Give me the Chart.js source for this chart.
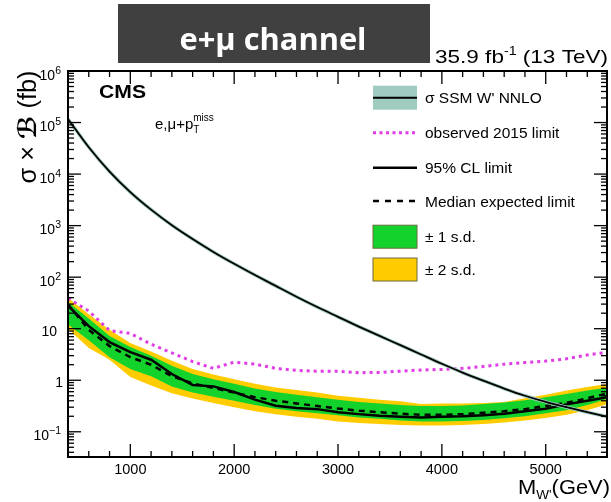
<!DOCTYPE html>
<html>
<head>
<meta charset="utf-8">
<script src="https://cdn.jsdelivr.net/npm/chart.js@4.4.1/dist/chart.umd.min.js"></script>
<style>
html, body { margin: 0; padding: 0; background: #fff; }
canvas { display: block; }
</style>
</head>
<body>
<canvas id="grafico" width="611" height="502"></canvas>
<script>
// Masas W' (GeV)
var masas = [400, 600, 800, 1000, 1200, 1400, 1600, 1800, 2000, 2200, 2400, 2600, 2800, 3000,
    3200, 3400, 3600, 3800, 4000, 4200, 4400, 4600, 4800, 5000, 5200, 5400, 5600];
// sigma x B en fb
var teoria = [117000, 33100, 11200, 4470, 2040, 1020, 550, 309, 182, 110, 67.6, 41.7, 26.3, 17,
    11, 7.24, 4.79, 3.16, 2.09, 1.41, 0.98, 0.69, 0.5, 0.38, 0.30, 0.24, 0.195];
var observado2015 = [39, 22, 9.2, 8.1, 5.0, 3.4, 2.3, 1.7, 2.25, 2.05, 1.7, 1.55, 1.5, 1.5,
    1.4, 1.42, 1.5, 1.58, 1.62, 1.7, 1.85, 2.05, 2.2, 2.35, 2.6, 3.1, 3.5];
var observado = [28, 11.2, 5.5, 3.5, 2.5, 1.32, 0.81, 0.76, 0.59, 0.42, 0.32, 0.29, 0.275, 0.24,
    0.22, 0.204, 0.195, 0.19, 0.195, 0.2, 0.21, 0.224, 0.25, 0.28, 0.34, 0.40, 0.47];
var mediana = [29.5, 9.5, 4.6, 2.8, 2.0, 1.2, 0.87, 0.71, 0.575, 0.47, 0.40, 0.355, 0.316, 0.282,
    0.257, 0.24, 0.224, 0.214, 0.214, 0.219, 0.234, 0.251, 0.275, 0.316, 0.363, 0.447, 0.562];
var verdeArriba = [33, 15.8, 7.2, 4.4, 3.0, 1.9, 1.32, 1.05, 0.85, 0.69, 0.59, 0.525, 0.47, 0.42,
    0.38, 0.355, 0.33, 0.316, 0.316, 0.324, 0.347, 0.37, 0.41, 0.47, 0.54, 0.63, 0.72];
var verdeAbajo = [12, 6.0, 2.8, 1.66, 1.2, 0.76, 0.575, 0.48, 0.40, 0.33, 0.28, 0.25, 0.23, 0.21,
    0.19, 0.178, 0.166, 0.158, 0.158, 0.162, 0.17, 0.182, 0.2, 0.23, 0.263, 0.33, 0.44];
var amarilloArriba = [40, 19, 9.5, 5.25, 3.6, 2.4, 1.66, 1.29, 1.05, 0.85, 0.72, 0.645, 0.575, 0.50,
    0.457, 0.417, 0.39, 0.347, 0.355, 0.355, 0.363, 0.38, 0.447, 0.525, 0.63, 0.74, 0.85];
var amarilloAbajo = [10, 4.2, 2.5, 1.15, 0.79, 0.56, 0.44, 0.36, 0.30, 0.25, 0.22, 0.195, 0.178, 0.158,
    0.148, 0.141, 0.135, 0.132, 0.132, 0.135, 0.141, 0.151, 0.166, 0.186, 0.214, 0.263, 0.347];

// Etiquetas de los ejes
var ticksX = [1000, 2000, 3000, 4000, 5000];
var etiquetasX = ["1000", "2000", "3000", "4000", "5000"];
var ticksY = [0.1, 1, 10, 100, 1000, 10000, 100000, 1000000];
var baseY = ["10", "1", "10", "10", "10", "10", "10", "10"];
var expY = ["\u22121", "", "", "2", "3", "4", "5", "6"];
var leyenda = ["\u03c3 SSM W' NNLO", "observed 2015 limit", "95% CL limit", "Median expected limit", "\u00b1 1 s.d.", "\u00b1 2 s.d."];

var VERDE = "#14d22c", AMARILLO = "#ffcc00", MAGENTA = "#e03de6", TEAL = "#9fcbc0";
var HELV = "'Liberation Sans', Arial, sans-serif";

function puntos(ys) {
    return masas.map(function (m, i) { return { x: m, y: ys[i] }; });
}

// Dibuja varios tramos de texto seguidos (para superindices y subindices)
function tramos(ctx, piezas, x, y, alin, ancho) {
    ctx.save();
    var total = 0;
    piezas.forEach(function (p) {
        ctx.font = p.f;
        p.w = ctx.measureText(p.t).width;
        if (!p.quieto) total += p.w;
    });
    var esc = ancho ? ancho / total : 1;
    var x0 = x;
    if (alin == "right") x0 = x - total * esc;
    if (alin == "center") x0 = x - total * esc / 2;
    ctx.translate(x0, y);
    ctx.scale(esc, 1);
    ctx.textBaseline = "alphabetic";
    ctx.textAlign = "left";
    var cx = 0;
    piezas.forEach(function (p) {
        ctx.font = p.f;
        ctx.fillText(p.t, cx, p.dy || 0);
        if (!p.quieto) cx += p.w;
    });
    ctx.restore();
}

function linea(ctx, x1, y1, x2, y2) {
    ctx.beginPath();
    ctx.moveTo(x1, y1);
    ctx.lineTo(x2, y2);
    ctx.stroke();
}

var decoracion = {
    id: "decoracion",
    afterDraw: function (chart) {
        var ctx = chart.ctx, a = chart.chartArea;
        var ex = chart.scales.x, ey = chart.scales.y;
        ctx.save();
        ctx.fillStyle = "#000";
        ctx.strokeStyle = "#000";

        // marco
        ctx.lineWidth = 2;
        ctx.strokeRect(a.left, a.top, a.right - a.left, a.bottom - a.top);

        // ticks del eje x (abajo y arriba)
        ctx.lineWidth = 1.3;
        for (var m = 400; m <= ex.max; m += 200) {
            var px = ex.getPixelForValue(m);
            var largo = (m % 1000 == 0) ? 13 : 6;
            linea(ctx, px, a.bottom, px, a.bottom - largo);
            linea(ctx, px, a.top, px, a.top + largo);
        }
        // ticks del eje y (izquierda y derecha)
        for (var d = -2; d <= 6; d++) {
            for (var k = 1; k <= 9; k++) {
                var v = k * Math.pow(10, d);
                if (v < ey.min || v > ey.max) continue;
                var py = ey.getPixelForValue(v);
                var l = (k == 1) ? 13 : 6;
                linea(ctx, a.left, py, a.left + l, py);
                linea(ctx, a.right, py, a.right - l, py);
            }
        }

        // etiquetas eje x
        ctx.font = "14.5px " + HELV;
        ctx.textAlign = "center";
        ticksX.forEach(function (t, i) {
            ctx.fillText(etiquetasX[i], ex.getPixelForValue(t), 474);
        });
        // etiquetas eje y
        ticksY.forEach(function (t, i) {
            var py = ey.getPixelForValue(t);
            if (expY[i]) {
                tramos(ctx, [{ t: baseY[i], f: "14px " + HELV }, { t: expY[i], f: "10.5px " + HELV, dy: -6 }], 61, py + 8.5, "right");
            } else {
                tramos(ctx, [{ t: baseY[i], f: "14px " + HELV }], baseY[i] == "1" ? 63 : 57, py + 7, "right");
            }
        });

        // titulo eje x
        tramos(ctx, [
            { t: "M", f: "21px " + HELV },
            { t: "W'", f: "13px " + HELV, dy: 5 },
            { t: "(GeV)", f: "21px " + HELV }
        ], 610, 494, "right", 92);

        // titulo eje y
        ctx.save();
        ctx.translate(36, 127);
        ctx.rotate(-Math.PI / 2);
        tramos(ctx, [
            { t: "\u03c3 \u00d7 ", f: "25px " + HELV },
            { t: "\u212c", f: "bold 25px 'DejaVu Sans', sans-serif" },
            { t: " (fb)", f: "25px " + HELV }
        ], 0, 0, "center", 113);
        ctx.restore();

        // CMS y canal
        tramos(ctx, [{ t: "CMS", f: "bold 19px " + HELV }], 99, 98, "left", 47);
        tramos(ctx, [
            { t: "e,\u03bc+p", f: "15px " + HELV },
            { t: "T", f: "10px " + HELV, dy: 4, quieto: true },
            { t: "miss", f: "10px " + HELV, dy: -8 }
        ], 155, 129, "left");

        // luminosidad
        tramos(ctx, [
            { t: "35.9 fb", f: "19px " + HELV },
            { t: "-1", f: "12px " + HELV, dy: -8 },
            { t: " (13 TeV)", f: "19px " + HELV }
        ], 608, 63, "right", 173);

        // caja del canal
        ctx.fillStyle = "#404040";
        ctx.fillRect(118, 4, 312, 59);
        ctx.fillStyle = "#fff";
        tramos(ctx, [{ t: "e+\u03bc channel", f: "bold 30px 'Open Sans', sans-serif" }], 273, 50, "center", 187);

        // leyenda
        var filas = [97.7, 132.7, 167.7, 201, 236.7, 269.5];
        var x1 = 373, x2 = 417;
        // teoria
        ctx.fillStyle = TEAL;
        ctx.fillRect(x1, filas[0] - 12, x2 - x1, 24);
        ctx.strokeStyle = "#000";
        ctx.lineWidth = 2;
        linea(ctx, x1, filas[0], x2, filas[0]);
        // 2015
        ctx.strokeStyle = MAGENTA;
        ctx.lineWidth = 3;
        ctx.setLineDash([3, 3.5]);
        linea(ctx, x1, filas[1], x2, filas[1]);
        // observado
        ctx.strokeStyle = "#000";
        ctx.lineWidth = 2.5;
        ctx.setLineDash([]);
        linea(ctx, x1, filas[2], x2, filas[2]);
        // mediana
        ctx.setLineDash([6, 6]);
        linea(ctx, x1, filas[3], x2, filas[3]);
        ctx.setLineDash([]);
        // bandas
        ctx.lineWidth = 1;
        ctx.strokeStyle = "#6b6b3a";
        ctx.fillStyle = VERDE;
        ctx.fillRect(x1, filas[4] - 11.5, x2 - x1, 23);
        ctx.strokeRect(x1, filas[4] - 11.5, x2 - x1, 23);
        ctx.fillStyle = AMARILLO;
        ctx.fillRect(x1, filas[5] - 11.5, x2 - x1, 23);
        ctx.strokeRect(x1, filas[5] - 11.5, x2 - x1, 23);
        // textos
        ctx.fillStyle = "#000";
        leyenda.forEach(function (s, i) {
            tramos(ctx, [{ t: s, f: "15.5px " + HELV }], 425, filas[i] + 5.5, "left");
        });

        ctx.restore();
    }
};

var transparente = "rgba(0,0,0,0)";
var contexto = document.getElementById("grafico").getContext("2d");
var miGrafico = new Chart(contexto, {
    type: "line",
    data: {
        datasets: [
            { label: "teoria", data: puntos(teoria), borderColor: "#000", borderWidth: 1.8, pointRadius: 0, cubicInterpolationMode: "monotone", fill: false },
            { label: "banda teoria", data: puntos(teoria), borderColor: TEAL, borderWidth: 3.5, pointRadius: 0, cubicInterpolationMode: "monotone", fill: false },
            { label: "2015", data: puntos(observado2015), borderColor: MAGENTA, borderWidth: 3, borderDash: [3, 4], pointRadius: 0, fill: false },
            { label: "observado", data: puntos(observado), borderColor: "#000", borderWidth: 2.5, pointRadius: 0, fill: false },
            { label: "mediana", data: puntos(mediana), borderColor: "#000", borderWidth: 2.5, borderDash: [6, 5], pointRadius: 0, fill: false },
            { label: "verde arriba", data: puntos(verdeArriba), borderColor: transparente, borderWidth: 0, pointRadius: 0, backgroundColor: VERDE, fill: "+1" },
            { label: "verde abajo", data: puntos(verdeAbajo), borderColor: transparente, borderWidth: 0, pointRadius: 0, fill: false },
            { label: "amarillo arriba", data: puntos(amarilloArriba), borderColor: transparente, borderWidth: 0, pointRadius: 0, backgroundColor: AMARILLO, fill: "+1" },
            { label: "amarillo abajo", data: puntos(amarilloAbajo), borderColor: transparente, borderWidth: 0, pointRadius: 0, fill: false }
        ]
    },
    options: {
        responsive: false,
        animation: false,
        layout: { padding: { left: 68, top: 71, right: 4, bottom: 45 } },
        scales: {
            x: { type: "linear", min: 400, max: 5590, display: false },
            y: { type: "logarithmic", min: 0.0324, max: 1000000, display: false }
        },
        plugins: {
            legend: { display: false },
            tooltip: { enabled: false }
        }
    },
    plugins: [decoracion]
});
</script>
</body>
</html>
